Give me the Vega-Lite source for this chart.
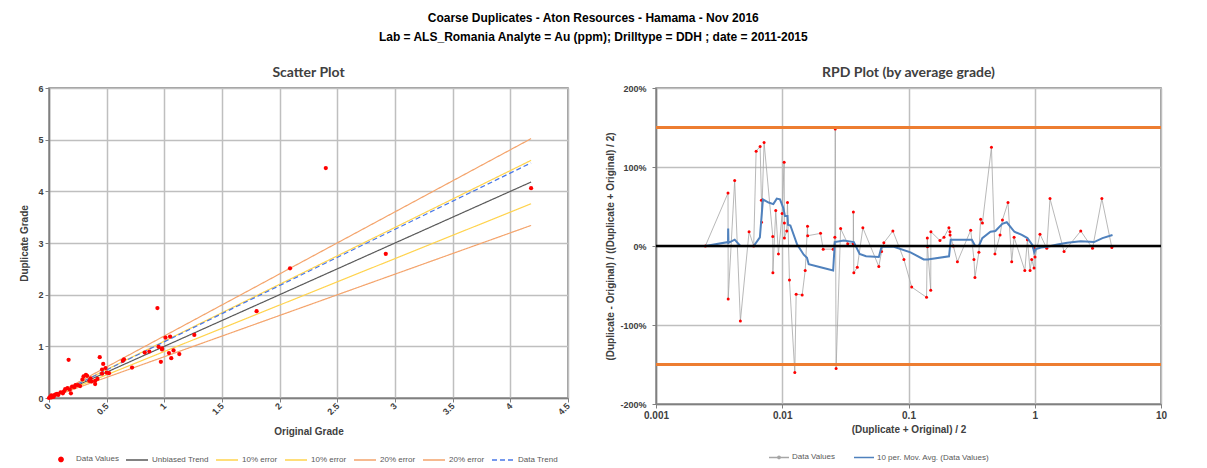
{
  "$schema": "https://vega.github.io/schema/vega-lite/v6.json",
  "background": "white",
  "padding": {"left": 19, "top": 11, "right": 10, "bottom": 4},
  "title": {
    "text": ["Coarse Duplicates - Aton Resources - Hamama - Nov 2016", "Lab = ALS_Romania Analyte = Au (ppm); Drilltype = DDH ; date = 2011-2015"],
    "font": "Liberation Sans",
    "fontSize": 12,
    "fontWeight": "bold",
    "color": "#000000",
    "anchor": "middle",
    "lineHeight": 19.5,
    "offset": 21
  },
  "datasets": {
    "scatter": [
      {"x": 0, "y": 0}, {"x": 0.01, "y": 0.02}, {"x": 0.02, "y": 0.01}, {"x": 0.02, "y": 0.05}, {"x": 0.03, "y": 0.04}, {"x": 0.04, "y": 0.02}, {"x": 0.05, "y": 0.06}, {"x": 0.06, "y": 0.07}, {"x": 0.07, "y": 0.08}, {"x": 0.08, "y": 0.06}, {"x": 0.1, "y": 0.11}, {"x": 0.12, "y": 0.09}, {"x": 0.13, "y": 0.13}, {"x": 0.14, "y": 0.17}, {"x": 0.16, "y": 0.19}, {"x": 0.17, "y": 0.74}, {"x": 0.18, "y": 0.16}, {"x": 0.19, "y": 0.09}, {"x": 0.2, "y": 0.22}, {"x": 0.22, "y": 0.21}, {"x": 0.23, "y": 0.25}, {"x": 0.25, "y": 0.25}, {"x": 0.27, "y": 0.23}, {"x": 0.29, "y": 0.36}, {"x": 0.3, "y": 0.42}, {"x": 0.32, "y": 0.45}, {"x": 0.33, "y": 0.43}, {"x": 0.35, "y": 0.33}, {"x": 0.37, "y": 0.32}, {"x": 0.36, "y": 0.38}, {"x": 0.4, "y": 0.27}, {"x": 0.4, "y": 0.33}, {"x": 0.42, "y": 0.37}, {"x": 0.44, "y": 0.79}, {"x": 0.46, "y": 0.55}, {"x": 0.46, "y": 0.47}, {"x": 0.47, "y": 0.66}, {"x": 0.49, "y": 0.58}, {"x": 0.5, "y": 0.49}, {"x": 0.52, "y": 0.48}, {"x": 0.64, "y": 0.72}, {"x": 0.65, "y": 0.75}, {"x": 0.72, "y": 0.59}, {"x": 0.83, "y": 0.88}, {"x": 0.87, "y": 0.9}, {"x": 0.94, "y": 1.74}, {"x": 0.95, "y": 0.99}, {"x": 0.97, "y": 0.7}, {"x": 0.98, "y": 0.96}, {"x": 0.98, "y": 0.94}, {"x": 1.01, "y": 1.17}, {"x": 1.04, "y": 0.87}, {"x": 1.05, "y": 1.19}, {"x": 1.06, "y": 0.77}, {"x": 1.08, "y": 0.92}, {"x": 1.13, "y": 0.85}, {"x": 1.26, "y": 1.22}, {"x": 1.8, "y": 1.68}, {"x": 2.09, "y": 2.51}, {"x": 2.4, "y": 4.45}, {"x": 2.92, "y": 2.79}, {"x": 4.18, "y": 4.06}
    ],
    "lines": [
      {"s": "Unbiased Trend", "x": 0, "y": 0}, {"s": "Unbiased Trend", "x": 4.18, "y": 4.18},
      {"s": "10% error (+)", "x": 0, "y": 0}, {"s": "10% error (+)", "x": 4.18, "y": 4.6},
      {"s": "10% error (-)", "x": 0, "y": 0}, {"s": "10% error (-)", "x": 4.18, "y": 3.76},
      {"s": "20% error (+)", "x": 0, "y": 0}, {"s": "20% error (+)", "x": 4.18, "y": 5.02},
      {"s": "20% error (-)", "x": 0, "y": 0}, {"s": "20% error (-)", "x": 4.18, "y": 3.34},
      {"s": "Data Trend", "x": 0, "y": 0}, {"s": "Data Trend", "x": 4.18, "y": 4.55}
    ],
    "rpd": [
      {"i": 1, "a": 0.00246, "r": 0}, {"i": 2, "a": 0.00372, "r": 0.67}, {"i": 3, "a": 0.00373, "r": -0.67}, {"i": 4, "a": 0.0042, "r": 0.83}, {"i": 5, "a": 0.00466, "r": -0.95}, {"i": 6, "a": 0.00546, "r": 0.18}, {"i": 7, "a": 0.00594, "r": 0}, {"i": 8, "a": 0.00621, "r": 1.2}, {"i": 9, "a": 0.00668, "r": 1.26}, {"i": 10, "a": 0.00684, "r": 0.58}, {"i": 11, "a": 0.00685, "r": 0.3}, {"i": 12, "a": 0.00718, "r": 1.31}, {"i": 13, "a": 0.00841, "r": 0.12}, {"i": 14, "a": 0.00843, "r": -0.34}, {"i": 15, "a": 0.00888, "r": 0.45}, {"i": 16, "a": 0.00933, "r": -0.1}, {"i": 17, "a": 0.00998, "r": 0.41}, {"i": 18, "a": 0.01035, "r": 1.06}, {"i": 19, "a": 0.0104, "r": 0.29}, {"i": 20, "a": 0.0104, "r": 0.1}, {"i": 21, "a": 0.01086, "r": 0.19}, {"i": 22, "a": 0.011, "r": 0.55}, {"i": 23, "a": 0.0114, "r": -0.43}, {"i": 24, "a": 0.01257, "r": -1.6}, {"i": 25, "a": 0.01289, "r": -0.61}, {"i": 26, "a": 0.01438, "r": -0.62}, {"i": 27, "a": 0.0152, "r": -0.31}, {"i": 28, "a": 0.01585, "r": 0.25}, {"i": 29, "a": 0.0159, "r": 0.13}, {"i": 30, "a": 0.0201, "r": 0.16}, {"i": 31, "a": 0.0211, "r": -0.04}, {"i": 32, "a": 0.0253, "r": -0.04}, {"i": 33, "a": 0.0261, "r": 0.11}, {"i": 34, "a": 0.0263, "r": 1.48}, {"i": 35, "a": 0.0267, "r": -1.55}, {"i": 36, "a": 0.029, "r": 0.22}, {"i": 37, "a": 0.033, "r": 0.03}, {"i": 38, "a": 0.0365, "r": 0.03}, {"i": 39, "a": 0.0366, "r": 0.43}, {"i": 40, "a": 0.0369, "r": -0.34}, {"i": 41, "a": 0.0393, "r": -0.27}, {"i": 42, "a": 0.0435, "r": 0.23}, {"i": 43, "a": 0.0582, "r": -0.26}, {"i": 44, "a": 0.0612, "r": -0.07}, {"i": 45, "a": 0.0638, "r": 0.04}, {"i": 46, "a": 0.0752, "r": 0.19}, {"i": 47, "a": 0.092, "r": -0.17}, {"i": 48, "a": 0.106, "r": -0.52}, {"i": 49, "a": 0.139, "r": -0.65}, {"i": 50, "a": 0.141, "r": 0.1}, {"i": 51, "a": 0.1415, "r": -0.01}, {"i": 52, "a": 0.15, "r": -0.56}, {"i": 53, "a": 0.1505, "r": 0.18}, {"i": 54, "a": 0.1775, "r": 0.07}, {"i": 55, "a": 0.191, "r": 0.11}, {"i": 56, "a": 0.209, "r": 0.23}, {"i": 57, "a": 0.213, "r": 0.18}, {"i": 58, "a": 0.2135, "r": 0.14}, {"i": 59, "a": 0.2265, "r": 0}, {"i": 60, "a": 0.244, "r": -0.2}, {"i": 61, "a": 0.311, "r": 0.2}, {"i": 62, "a": 0.33, "r": -0.17}, {"i": 63, "a": 0.336, "r": -0.4}, {"i": 64, "a": 0.361, "r": -0.08}, {"i": 65, "a": 0.373, "r": 0.34}, {"i": 66, "a": 0.385, "r": 0.29}, {"i": 67, "a": 0.454, "r": 1.25}, {"i": 68, "a": 0.484, "r": -0.1}, {"i": 69, "a": 0.531, "r": 0.14}, {"i": 70, "a": 0.555, "r": 0.33}, {"i": 71, "a": 0.614, "r": 0.55}, {"i": 72, "a": 0.657, "r": -0.2}, {"i": 73, "a": 0.686, "r": 0.11}, {"i": 74, "a": 0.834, "r": -0.31}, {"i": 75, "a": 0.875, "r": 0.08}, {"i": 76, "a": 0.918, "r": -0.31}, {"i": 77, "a": 0.946, "r": -0.17}, {"i": 78, "a": 0.987, "r": -0.28}, {"i": 79, "a": 0.99, "r": -0.03}, {"i": 80, "a": 1.005, "r": -0.14}, {"i": 81, "a": 1.1, "r": 0.15}, {"i": 82, "a": 1.245, "r": -0.03}, {"i": 83, "a": 1.321, "r": 0.6}, {"i": 84, "a": 1.707, "r": -0.07}, {"i": 85, "a": 2.315, "r": 0.19}, {"i": 86, "a": 2.868, "r": -0.03}, {"i": 87, "a": 3.4, "r": 0.6}, {"i": 88, "a": 4.08, "r": -0.02}
    ],
    "mavg": [
      {"i": 1, "a": 0.00246, "r": 0}, {"i": 2, "a": 0.00372, "r": 0.05}, {"i": 3, "a": 0.00373, "r": 0.22}, {"i": 4, "a": 0.00375, "r": 0.04}, {"i": 5, "a": 0.0042, "r": 0.08}, {"i": 6, "a": 0.00466, "r": 0}, {"i": 7, "a": 0.00594, "r": 0}, {"i": 8, "a": 0.00665, "r": 0.11}, {"i": 9, "a": 0.00703, "r": 0.59}, {"i": 10, "a": 0.0078, "r": 0.55}, {"i": 11, "a": 0.0085, "r": 0.53}, {"i": 12, "a": 0.00905, "r": 0.6}, {"i": 13, "a": 0.0096, "r": 0.59}, {"i": 14, "a": 0.0102, "r": 0.48}, {"i": 15, "a": 0.0105, "r": 0.38}, {"i": 16, "a": 0.011, "r": 0.38}, {"i": 17, "a": 0.0111, "r": 0.27}, {"i": 18, "a": 0.0116, "r": 0.26}, {"i": 19, "a": 0.0131, "r": 0.02}, {"i": 20, "a": 0.0148, "r": -0.11}, {"i": 21, "a": 0.0157, "r": -0.15}, {"i": 22, "a": 0.0162, "r": -0.23}, {"i": 23, "a": 0.0201, "r": -0.27}, {"i": 24, "a": 0.0253, "r": -0.31}, {"i": 25, "a": 0.0261, "r": 0.05}, {"i": 26, "a": 0.0307, "r": 0.07}, {"i": 27, "a": 0.0369, "r": 0.05}, {"i": 28, "a": 0.041, "r": -0.1}, {"i": 29, "a": 0.0461, "r": -0.13}, {"i": 30, "a": 0.0582, "r": -0.14}, {"i": 31, "a": 0.0612, "r": -0.01}, {"i": 32, "a": 0.0766, "r": -0.01}, {"i": 33, "a": 0.1037, "r": -0.08}, {"i": 34, "a": 0.132, "r": -0.17}, {"i": 35, "a": 0.1415, "r": -0.17}, {"i": 36, "a": 0.2095, "r": -0.13}, {"i": 37, "a": 0.216, "r": 0.08}, {"i": 38, "a": 0.237, "r": 0.08}, {"i": 39, "a": 0.3175, "r": 0.08}, {"i": 40, "a": 0.3375, "r": 0}, {"i": 41, "a": 0.361, "r": 0}, {"i": 42, "a": 0.384, "r": 0.1}, {"i": 43, "a": 0.446, "r": 0.18}, {"i": 44, "a": 0.488, "r": 0.19}, {"i": 45, "a": 0.553, "r": 0.28}, {"i": 46, "a": 0.6, "r": 0.3}, {"i": 47, "a": 0.69, "r": 0.18}, {"i": 48, "a": 0.79, "r": 0.14}, {"i": 49, "a": 0.875, "r": 0.1}, {"i": 50, "a": 0.96, "r": 0.01}, {"i": 51, "a": 0.99, "r": -0.08}, {"i": 52, "a": 1.02, "r": -0.04}, {"i": 53, "a": 1.12, "r": -0.02}, {"i": 54, "a": 1.26, "r": -0.01}, {"i": 55, "a": 1.51, "r": 0.02}, {"i": 56, "a": 1.81, "r": 0.04}, {"i": 57, "a": 2.31, "r": 0.06}, {"i": 58, "a": 2.95, "r": 0.05}, {"i": 59, "a": 3.44, "r": 0.1}, {"i": 60, "a": 4.13, "r": 0.14}
    ],
    "limits": [{"r": 1.5}, {"r": -1.5}],
    "zero": [{"r": 0}]
  },
  "resolve": {"scale": {"color": "independent"}, "legend": {"color": "independent"}},
  "hconcat": [
    {
      "width": 519,
      "height": 310,
      "title": {"text": "Scatter Plot", "font": "Lato", "fontSize": 14, "fontWeight": "bold", "color": "#404040", "offset": 4},
      "layer": [
        {
          "data": {"name": "lines"},
          "mark": {"type": "line", "strokeWidth": 1.2},
          "encoding": {
            "x": {"field": "x", "type": "quantitative", "scale": {"domain": [0, 4.5]}, "axis": {"title": "Original Grade", "values": [0, 0.5, 1, 1.5, 2, 2.5, 3, 3.5, 4, 4.5], "format": "~g", "labelAngle": -45, "labelAlign": "right", "labelBaseline": "middle", "labelPadding": 2, "titlePadding": 10}},
            "y": {"field": "y", "type": "quantitative", "scale": {"domain": [0, 6]}, "axis": {"title": "Duplicate Grade", "values": [0, 1, 2, 3, 4, 5, 6], "titlePadding": 8}},
            "color": {"field": "s", "type": "nominal", "sort": null,
              "scale": {"domain": ["Data Values", "Unbiased Trend", "10% error (+)", "10% error (-)", "20% error (+)", "20% error (-)", "Data Trend"],
                        "range": ["#FF0000", "#595959", "#FFD34D", "#FFD34D", "#F4A46C", "#F4A46C", "#4A78E8"]},
              "legend": {"title": null, "orient": "bottom", "direction": "horizontal", "columns": 7, "labelFontSize": 8, "labelColor": "#595959", "labelFont": "Liberation Sans", "columnPadding": 4, "labelOffset": 3, "symbolSize": 484, "symbolStrokeWidth": 1.5, "offset": 10,
                "labelExpr": "indexof(datum.label, 'error') > 0 ? slice(datum.label, 0, 9) : datum.label",
                "encode": {"symbols": {"update": {
                  "shape": {"signal": "datum.value === 'Data Values' ? 'circle' : 'stroke'"},
                  "size": {"signal": "datum.value === 'Data Values' ? 18 : 484"},
                  "fill": {"signal": "datum.value === 'Data Values' ? '#FF0000' : 'transparent'"},
                  "strokeDash": {"signal": "datum.value === 'Data Trend' ? [5, 3] : [1, 0]"}
                }}}}
            },
            "strokeDash": {"condition": {"test": "datum.s === 'Data Trend'", "value": [5, 3]}, "value": [1, 0]},
            "detail": {"field": "s"}
          }
        },
        {
          "data": {"name": "scatter"},
          "transform": [{"calculate": "'Data Values'", "as": "s"}],
          "mark": {"type": "point", "filled": true, "size": 18, "opacity": 1},
          "encoding": {
            "x": {"field": "x", "type": "quantitative"},
            "y": {"field": "y", "type": "quantitative"},
            "color": {"field": "s", "type": "nominal", "sort": null}
          }
        }
      ]
    },
    {
      "width": 505,
      "height": 316,
      "title": {"text": "RPD Plot (by average grade)", "font": "Lato", "fontSize": 14, "fontWeight": "bold", "color": "#404040", "offset": 4},
      "layer": [
        {
          "data": {"name": "rpd"},
          "transform": [{"calculate": "'Data Values'", "as": "s"}],
          "mark": {"type": "line", "strokeWidth": 0.8},
          "encoding": {
            "x": {"field": "a", "type": "quantitative", "scale": {"type": "log", "domain": [0.001, 10]}, "axis": {"title": "(Duplicate + Original) / 2", "values": [0.001, 0.01, 0.1, 1, 10], "labelExpr": "datum.value >= 1 ? format(datum.value, 'd') : (datum.value >= 0.1 ? '0.1' : (datum.value >= 0.01 ? '0.01' : '0.001'))", "labelFontSize": 10}},
            "y": {"field": "r", "type": "quantitative", "scale": {"domain": [-2, 2]}, "axis": {"title": "(Duplicate - Original) / ((Duplicate + Original) / 2)", "values": [-2, -1.5, -1, -0.5, 0, 0.5, 1, 1.5, 2], "labelExpr": "replace(format(datum.value, '.0%'), '\u2212', '-')", "labelPadding": 6, "titlePadding": 4}},
            "order": {"field": "i", "type": "quantitative"},
            "color": {"field": "s", "type": "nominal", "sort": null,
              "scale": {"domain": ["Data Values", "10 per. Mov. Avg. (Data Values)"], "range": ["#A6A6A6", "#4F81BD"]},
              "legend": {"title": null, "orient": "none", "legendX": 112, "legendY": 358, "direction": "horizontal", "labelFontSize": 8, "labelColor": "#595959", "labelFont": "Liberation Sans", "columnPadding": 16, "labelOffset": 2, "symbolSize": 400, "symbolStrokeWidth": 1.5,
                "encode": {"symbols": {"update": {
                  "shape": {"signal": "datum.value === 'Data Values' ? 'M-1,0H1M-0.12,0A0.12,0.12 0 1,0 0.12,0A0.12,0.12 0 1,0 -0.12,0' : 'stroke'"},
                  "fill": {"value": "#FF0000"}
                }}}}
            }
          }
        },
        {
          "data": {"name": "rpd"},
          "mark": {"type": "point", "filled": true, "size": 9, "color": "#FF0000", "opacity": 1},
          "encoding": {
            "x": {"field": "a", "type": "quantitative"},
            "y": {"field": "r", "type": "quantitative"}
          }
        },
        {
          "data": {"name": "mavg"},
          "transform": [{"calculate": "'10 per. Mov. Avg. (Data Values)'", "as": "s"}],
          "mark": {"type": "line", "strokeWidth": 2},
          "encoding": {
            "x": {"field": "a", "type": "quantitative"},
            "y": {"field": "r", "type": "quantitative"},
            "order": {"field": "i", "type": "quantitative"},
            "color": {"field": "s", "type": "nominal", "sort": null}
          }
        },
        {
          "data": {"name": "limits"},
          "mark": {"type": "rule", "color": "#ED7D31", "strokeWidth": 3},
          "encoding": {"y": {"field": "r", "type": "quantitative"}}
        },
        {
          "data": {"name": "zero"},
          "mark": {"type": "rule", "color": "#000000", "strokeWidth": 2.5},
          "encoding": {"y": {"field": "r", "type": "quantitative"}}
        }
      ]
    }
  ],
  "spacing": 32,
  "config": {
    "font": "Liberation Sans",
    "view": {"stroke": "#808080", "strokeWidth": 1.5},
    "axis": {
      "labelFont": "Liberation Sans",
      "labelFontSize": 9,
      "labelFontWeight": "bold",
      "labelColor": "#404040",
      "labelFlush": false,
      "titleFont": "Liberation Sans",
      "titleFontSize": 10,
      "titleFontWeight": "bold",
      "titleColor": "#404040",
      "gridColor": "#BFBFBF",
      "gridWidth": 1.5,
      "domainColor": "#808080",
      "domainWidth": 1.5,
      "tickColor": "#808080",
      "tickSize": 4
    }
  }
}
